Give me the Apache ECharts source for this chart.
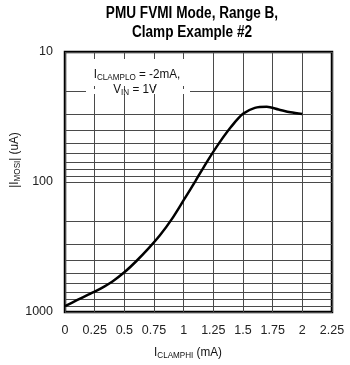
<!DOCTYPE html>
<html>
<head>
<meta charset="utf-8">
<style>
  html, body { margin: 0; padding: 0; background: #fff; }
  #chart { width: 350px; height: 365px; }
</style>
<script src="https://cdn.jsdelivr.net/npm/echarts@6/dist/echarts.min.js"></script>
</head>
<body>
<div id="chart"></div>
<script>
// Clamp current I_CLAMPHI (mA) and resulting |I_MOSI| (uA)
const clampHi = [0, 0.1, 0.2, 0.3, 0.4, 0.5, 0.6, 0.7, 0.8, 0.9, 1.0, 1.1, 1.2, 1.3, 1.4, 1.5, 1.6, 1.7, 1.8, 1.9, 2.0];
const mosiCurrent = [900, 812, 733, 660, 582, 495, 407, 327, 257, 193, 138, 98, 69, 50, 37.6, 29.9, 26.9, 26.4, 27.7, 29.1, 30.0];

// Labelled decades and the log gridlines between them
const yTicks = [10, 100, 1000];
const minorGrid = [20, 30, 40, 50, 60, 70, 80, 90, 200, 300, 400, 500, 600, 700, 800, 900];

const FONT = "'Liberation Sans Narrow', 'Liberation Sans', Arial, sans-serif";
const GRID_COLOR = '#4a4a4a';

const chart = echarts.init(document.getElementById('chart'), null, { renderer: 'canvas' });

const richLabel = {
  m: { fontFamily: FONT, fontSize: 13, lineHeight: 16, fill: '#111' },
  s: { fontFamily: FONT, fontSize: 9, lineHeight: 16, padding: [7, 0, 0, 0], fill: '#111' }
};

chart.setOption({
  animation: false,
  backgroundColor: '#fff',
  grid: {
    left: 65, right: 18, top: 52, bottom: 53,
    show: true, borderColor: '#000', borderWidth: 2.5, backgroundColor: 'transparent'
  },
  xAxis: {
    type: 'value',
    min: 0, max: 2.25, interval: 0.25,
    axisLine: { show: false },
    axisTick: { show: false },
    axisLabel: { color: '#222', fontSize: 12.5, fontFamily: FONT, margin: 12 },
    splitLine: { show: true, lineStyle: { color: GRID_COLOR, width: 1 } }
  },
  yAxis: {
    type: 'log',
    logBase: 10,
    min: yTicks[0], max: yTicks[yTicks.length - 1],
    inverse: true,
    axisLine: { show: false },
    axisTick: { show: false },
    axisLabel: {
      color: '#222', fontSize: 12.5, fontFamily: FONT, margin: 12,
      formatter: v => String(Math.round(v))
    },
    splitLine: { show: true, lineStyle: { color: GRID_COLOR, width: 1 } }
  },
  series: [
    {
      type: 'line',
      data: [],
      silent: true,
      markLine: {
        silent: true,
        symbol: 'none',
        animation: false,
        label: { show: false },
        lineStyle: { color: GRID_COLOR, width: 1, type: 'solid' },
        data: minorGrid.map(v => ({ yAxis: v }))
      }
    },
    {
      type: 'line',
      data: clampHi.map((x, i) => [x, mosiCurrent[i]]),
      smooth: 0.3,
      showSymbol: false,
      z: 10,
      lineStyle: { color: '#000', width: 2.5 }
    }
  ],
  graphic: [
    // white backing behind the annotation
    { type: 'rect', z: 50, shape: { x: 86, y: 59, width: 104, height: 27 }, style: { fill: '#fff' } },
    { type: 'rect', z: 50, shape: { x: 86, y: 89, width: 104, height: 5 }, style: { fill: '#fff' } },
    {
      type: 'text', z: 60, x: 192, y: 4, scaleX: 0.85,
      style: {
        text: 'PMU FVMI Mode, Range B,\nClamp Example #2',
        fontFamily: FONT, fontWeight: 'bold', fontSize: 16, lineHeight: 19,
        fill: '#000', textAlign: 'center'
      }
    },
    {
      type: 'text', z: 60, x: 137, y: 74, scaleX: 0.9,
      style: { text: '{m|I}{s|CLAMPLO}{m| = -2mA,}', textAlign: 'center', textVerticalAlign: 'middle', rich: richLabel }
    },
    {
      type: 'text', z: 60, x: 135, y: 89, scaleX: 0.9,
      style: { text: '{m|V}{s|IN}{m| = 1V}', textAlign: 'center', textVerticalAlign: 'middle', rich: richLabel }
    },
    {
      type: 'text', z: 60, x: 188, y: 352, scaleX: 0.9,
      style: { text: '{m|I}{s|CLAMPHI}{m| (mA)}', textAlign: 'center', textVerticalAlign: 'middle', rich: richLabel }
    },
    {
      type: 'text', z: 60, x: 14, y: 160, rotation: Math.PI / 2, scaleX: 0.9,
      style: { text: '{m||I}{s|MOSI}{m|| (uA)}', textAlign: 'center', textVerticalAlign: 'middle', rich: richLabel }
    }
  ]
});
</script>
</body>
</html>
